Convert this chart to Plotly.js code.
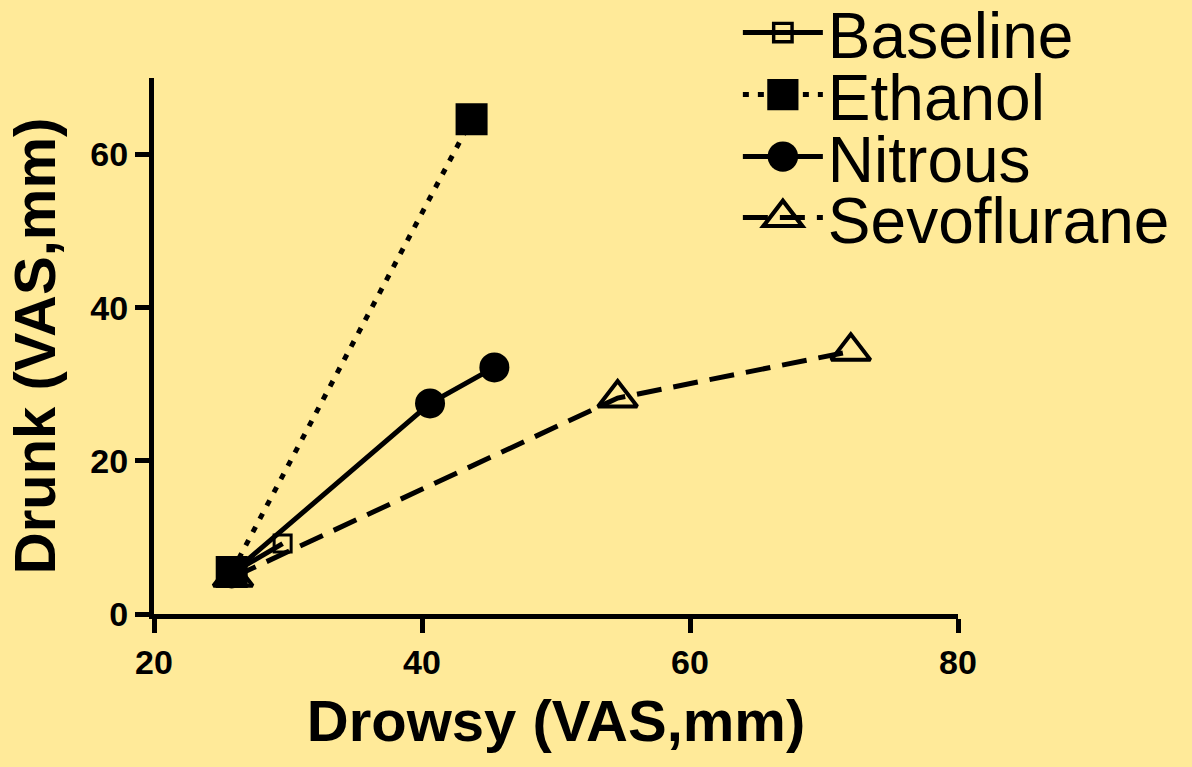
<!DOCTYPE html>
<html>
<head>
<meta charset="utf-8">
<script src="https://cdn.plot.ly/plotly-3.0.1.min.js"></script>
<style>html,body{margin:0;padding:0;background:#FFEA99;}#chart{width:1192px;height:767px;}</style>
</head>
<body>
<div id="chart"></div>
<script>
// Data
const baselineX = [25.8, 29.6];
const baselineY = [5.3, 9.2];
const ethanolX = [25.8, 43.7];
const ethanolY = [5.5, 64.6];
const nitrousX = [25.8, 40.6, 45.4];
const nitrousY = [5.3, 27.5, 32.2];
const sevoX = [25.9, 54.6, 72.0];
const sevoY = [4.8, 28.2, 34.3];
const seriesNames = ["Baseline", "Ethanol", "Nitrous", "Sevoflurane"];
const xTicks = [20, 40, 60, 80];
const yTicks = [0, 20, 40, 60];

const bg = "#FFEA99";
const traces = [
  {x: nitrousX, y: nitrousY, name: seriesNames[2], mode: "lines+markers", legend: "legend3",
   line: {color: "#000", width: 5, dash: "solid"},
   marker: {symbol: "circle", size: 30, color: "#000"}},
  {x: sevoX, y: sevoY, name: seriesNames[3], mode: "lines+markers", legend: "legend4",
   line: {color: "#000", width: 5, dash: "25px,12px"},
   marker: {symbol: "triangle-up-open", size: 34, color: "#000", line: {width: 4, color: "#000"}}},
  {x: baselineX, y: baselineY, name: seriesNames[0], mode: "lines+markers", legend: "legend",
   line: {color: "#000", width: 5, dash: "solid"},
   marker: {symbol: "square-open", size: 17, color: "#000", line: {width: 3, color: "#000"}}},
  {x: ethanolX, y: ethanolY, name: seriesNames[1], mode: "lines+markers", legend: "legend2",
   line: {color: "#000", width: 5, dash: "6px,9px"},
   marker: {symbol: "square", size: 32, color: "#000"}}
];

const legFont = {family: "Liberation Sans, Arial, sans-serif", size: 64, color: "#000"};
function leg(ypx) {
  return {x: 0.7262, y: (614 - ypx) / 536, xanchor: "left", yanchor: "middle",
          bgcolor: "rgba(0,0,0,0)", itemwidth: 80, font: legFont, valign: "middle"};
}
const tickFont = {family: "Liberation Sans Narrow, Arial Narrow, Liberation Sans, sans-serif", size: 34, weight: "bold", color: "#000"};
const titleFont = {family: "Liberation Sans, Arial, sans-serif", size: 58, weight: "bold", color: "#000"};
const axisCommon = {showgrid: false, zeroline: false, showline: true, linecolor: "#000", linewidth: 5,
  ticks: "outside", ticklen: 14, tickwidth: 5, tickcolor: "#000", tickfont: tickFont, automargin: false};

const layout = {
  width: 1192, height: 767,
  paper_bgcolor: bg, plot_bgcolor: bg,
  margin: {l: 154, r: 234, t: 78, b: 153, autoexpand: false},
  showlegend: true,
  legend: leg(33), legend2: leg(95), legend3: leg(157), legend4: leg(218),
  xaxis: Object.assign({range: [20, 80], tickvals: xTicks, ticktext: xTicks.map(String),
          title: {text: "Drowsy (VAS,mm)", standoff: 22, font: titleFont}}, axisCommon),
  yaxis: Object.assign({range: [0, 70], tickvals: yTicks, ticktext: yTicks.map(String),
          title: {text: "Drunk (VAS,mm)", standoff: 18, font: titleFont}}, axisCommon)
};
const legendScale = {Baseline: [1.15, 3], Ethanol: [1.95, 0], Nitrous: [1.9, 0], Sevoflurane: [2.1, 2]};
function enlargeLegendMarkers(gd) {
  gd.querySelectorAll("g.traces").forEach(g => {
    const d = g.__data__;
    let name = null;
    if (d && d[0] && d[0].trace) name = d[0].trace.name;
    if (!name) {
      const tx = g.querySelector("text.legendtext");
      if (tx) name = tx.textContent;
    }
    const s = legendScale[name];
    if (!s) return;
    g.querySelectorAll("path.scatterpts").forEach(p => {
      if (p.getAttribute("data-scaled")) return;
      const t = p.getAttribute("transform") || "";
      p.setAttribute("transform", t + " scale(" + s[0] + ")");
      p.setAttribute("data-scaled", "1");
      if (s[1]) p.style.strokeWidth = s[1] + "px";
    });
  });
}
Plotly.newPlot("chart", traces, layout, {displayModeBar: false, staticPlot: true}).then(gd => {
  enlargeLegendMarkers(gd);
  gd.on("plotly_afterplot", () => enlargeLegendMarkers(gd));
  setTimeout(() => enlargeLegendMarkers(gd), 50);
});
</script>
</body>
</html>
